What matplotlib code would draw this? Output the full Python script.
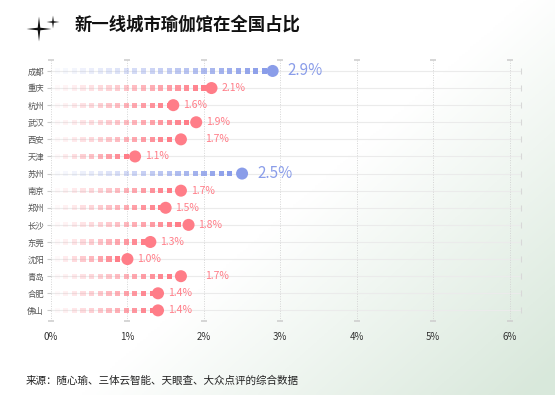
import numpy as np
import matplotlib
matplotlib.use('Agg')
import matplotlib.pyplot as plt
from matplotlib.path import Path
from matplotlib.patches import PathPatch

plt.rcParams['font.family'] = ['Noto Sans CJK SC', 'DejaVu Sans']

# --- DATA ---
cities = ['成都', '重庆', '杭州', '武汉', '西安', '天津', '苏州',
          '南京', '郑州', '长沙', '东莞', '沈阳', '青岛', '合肥', '佛山']
shares = [2.9, 2.1, 1.6, 1.9, 1.7, 1.1, 2.5,
          1.7, 1.5, 1.8, 1.3, 1.0, 1.7, 1.4, 1.4]
highlight = ['成都', '苏州']
x_ticks = [0, 1, 2, 3, 4, 5, 6]
title = '新一线城市瑜伽馆在全国占比'
source = '来源：随心瑜、三体云智能、天眼查、大众点评的综合数据'

BLUE = '#8a9de9'
RED = '#ff7d88'
W, H = 555, 395

fig = plt.figure(figsize=(W / 100, H / 100), dpi=100)

# background gradient (white -> pale green towards bottom right)
bg = fig.add_axes([0, 0, 1, 1], zorder=-10)
gx, gy = np.meshgrid(np.linspace(0, 1, 200), np.linspace(0, 1, 200))
t = np.clip((gx * 1.0 + gy * 0.8 - 0.95) / 0.8, 0, 1)
c0 = np.array([1.0, 1.0, 1.0])
c1 = np.array([0.85, 0.91, 0.86])
img = c0[None, None, :] * (1 - t[..., None]) + c1[None, None, :] * t[..., None]
bg.imshow(img, extent=[0, 1, 0, 1], aspect='auto', origin='upper')
bg.set_xlim(0, 1)
bg.set_ylim(0, 1)
bg.axis('off')


def sparkle(cx, cy, r, w):
    # four-point star in pixel coords of bg axes
    pts = [(cx, cy + r), (cx + w, cy + w), (cx + r, cy), (cx + w, cy - w),
           (cx, cy - r), (cx - w, cy - w), (cx - r, cy), (cx - w, cy + w), (cx, cy + r)]
    pts = [(px / W, 1 - py / H) for px, py in pts]
    codes = [Path.MOVETO] + [Path.LINETO] * 7 + [Path.CLOSEPOLY]
    bg.add_patch(PathPatch(Path(pts, codes), facecolor='#111111', edgecolor='none'))


sparkle(39, 29, 12.5, 1.3)
sparkle(53, 22, 6.5, 0.8)

fig.text(75 / W, 1 - 25 / H, title, fontsize=12.5, fontweight='bold',
         color='#111111', va='center', ha='left')
fig.text(26 / W, 1 - 381 / H, source, fontsize=7.6, color='#222222',
         va='center', ha='left')

# --- MAIN AXES ---
ax = fig.add_axes([51 / W, 1 - 321 / H, (521 - 51) / W, (321 - 60) / H])
ax.set_facecolor('none')
n = len(cities)
ax.set_xlim(0, 6.15)
ax.set_ylim(n - 1 + 0.62, -0.64)

for i in range(n):
    ax.axhline(i, color='#ebebeb', lw=0.8, zorder=0)
    ax.plot([6.15], [i], marker='|', color='#d8d8d8', ms=4, mew=0.8,
            clip_on=False, zorder=0)
for xv in x_ticks:
    ax.axvline(xv, color='#d5d5d5', lw=0.7, ls=(0, (1, 1.5)), zorder=0)
    for yv in ax.get_ylim():
        ax.plot([xv], [yv], marker='_', color='#cfcfcf', ms=5, mew=1.2,
                clip_on=False, zorder=0)

step = 0.113
for i, (city, val) in enumerate(zip(cities, shares)):
    col = BLUE if city in highlight else RED
    xs = np.arange(0.08, val - 0.05, step)
    alphas = np.linspace(0.07, 1.0, len(xs)) ** 1.2
    rgba = np.tile(np.array(matplotlib.colors.to_rgba(col)), (len(xs), 1))
    rgba[:, 3] = alphas
    ax.scatter(xs, np.full(len(xs), i), marker='s', s=14, c=rgba,
               edgecolors='none', zorder=2)
    ax.scatter([val], [i], s=75, color=col, edgecolors='none', zorder=3)
    if city in highlight:
        ax.text(val + 0.2, i, f'{val:.1f}%', color=col, fontsize=11,
                va='center', ha='left')
    else:
        pad = 0.32 if city in ('西安', '青岛') else 0.13
        ax.text(val + pad, i, f'{val:.1f}%', color=col, fontsize=7.5,
                va='center', ha='left')

ax.set_yticks(range(n))
ax.set_yticklabels(cities, fontsize=6, color='#555555')
ax.set_xticks(x_ticks)
ax.set_xticklabels([f'{v}%' for v in x_ticks], fontsize=7, color='#333333')
ax.tick_params(axis='y', length=3, color='#cccccc', pad=2)
ax.tick_params(axis='x', length=0, pad=8)
for s in ax.spines.values():
    s.set_visible(False)

fig.savefig('out.png', dpi=100)
